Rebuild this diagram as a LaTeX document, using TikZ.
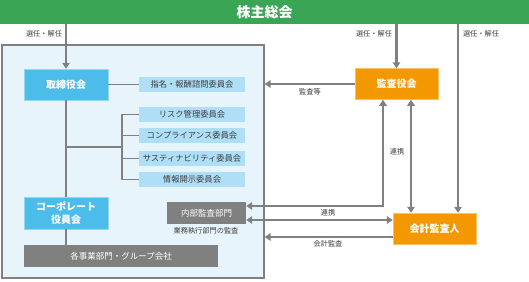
\documentclass[tikz,border=0pt]{standalone}
\usepackage{fontspec}
\setmainfont{Noto Sans CJK JP}
\usetikzlibrary{arrows.meta}
\definecolor{gbar}{HTML}{3AA655}
\definecolor{contfill}{HTML}{E8F4FC}
\definecolor{linegray}{HTML}{808080}
\definecolor{cyanbox}{HTML}{4CBDEB}
\definecolor{lightbox}{HTML}{AEDFF7}
\definecolor{orangebox}{HTML}{F39800}
\definecolor{graybox}{HTML}{808080}
\definecolor{txtgray}{HTML}{3C3C3C}
\tikzset{
  basebox/.style={inner sep=0pt, align=center},
  mainbox/.style={basebox, fill=cyanbox, draw=cyanbox!60!white, line width=0.5pt, text=white, font=\fontsize{10}{12}\selectfont\bfseries},
  orbox/.style={basebox, fill=orangebox, draw=orangebox!60!white, line width=0.5pt, text=white, font=\fontsize{10}{12}\selectfont\bfseries, minimum width=83pt, minimum height=31pt},
  combox/.style={basebox, fill=lightbox, text=txtgray, font=\fontsize{8.3}{10}\selectfont, minimum width=106pt, minimum height=15pt},
  gbox/.style={basebox, fill=graybox, text=white, font=\fontsize{8.5}{10}\selectfont},
  lbl/.style={inner sep=0pt, text=txtgray, font=\fontsize{7.2}{8}\selectfont},
  ln/.style={draw=linegray, line width=1.3pt},
  arr/.style={draw=linegray, line width=2.2pt, -{Triangle[length=6pt,width=7.5pt]}},
  darr/.style={draw=linegray, line width=2.2pt, {Triangle[length=6pt,width=7.5pt]}-{Triangle[length=6pt,width=7.5pt]}}
}
\begin{document}
\begin{tikzpicture}[x=1pt,y=-1pt]
\useasboundingbox (0,0) rectangle (529,281);
% shareholders bar
\node[basebox, fill=gbar, text=white, minimum width=529pt, minimum height=24pt, font=\fontsize{14}{16}\selectfont\bfseries] (kabu) at (264.5,12) {株主総会};
% container
\node[basebox, fill=contfill, draw=linegray, line width=1.2pt, minimum width=262pt, minimum height=233pt] (cont) at (133,161.5) {};
% boxes
\node[mainbox, minimum width=84pt, minimum height=31pt] (tori) at (66,84.5) {取締役会};
\node[combox] (shimei) at (192,84.5) {指名・報酬諮問委員会};
\node[combox] (risk) at (192,114.5) {リスク管理委員会};
\node[combox] (comp) at (192,135.5) {コンプライアンス委員会};
\node[combox] (sust) at (192,158.5) {サスティナビリティ委員会};
\node[combox] (joho) at (192,179.5) {情報開示委員会};
\node[mainbox, minimum width=84pt, minimum height=32pt, font=\fontsize{10}{13}\selectfont\bfseries] (corp) at (66,213) {コーポレート\\役員会};
\node[gbox, minimum width=194pt, minimum height=22pt] (jigyo) at (121,256) {各事業部門・グループ会社};
\node[gbox, minimum width=79pt, minimum height=22pt] (naibu) at (206.5,213) {内部監査部門};
\node[orbox] (kansa) at (396.5,84) {監査役会};
\node[orbox] (kaikei) at (434.5,228.5) {会計監査人};
% inner lines
\draw[ln] (tori.east) -- (shimei.west);
\draw[ln] (tori.south) -- (corp.north);
\draw[ln] (corp.south) -- (corp.south |- jigyo.north);
\coordinate (bj) at (122,147);
\draw[ln] (bj -| tori.south) -- (bj);
\draw[ln] (risk.west) -- (risk.west -| bj) |- (joho.west);
\draw[ln] (comp.west) -- (comp.west -| bj);
\draw[ln] (sust.west) -- (sust.west -| bj);
% arrows from shareholders
\draw[arr] (kabu.south -| tori.north) -- (tori.north);
\draw[arr] (kabu.south -| kansa.north) -- (kansa.north);
\coordinate (c3) at ([xshift=23.5pt]kaikei.north);
\draw[arr] (kabu.south -| c3) -- (c3);
% audit arrows
\draw[arr] (kansa.west) -- (kansa.west -| cont.east);
\coordinate (a1) at ([xshift=-13.5pt]kansa.south);
\coordinate (n1) at ([yshift=7pt]naibu.east);
\draw[darr] (a1) |- (n1);
\coordinate (a2) at ([xshift=14.5pt]kansa.south);
\draw[darr] (a2) -- (a2 |- kaikei.north);
\coordinate (n2) at ([yshift=-7pt]naibu.east);
\draw[darr] (n2) -- (n2 -| kaikei.west);
\coordinate (b3) at ([yshift=-8.5pt]kaikei.west);
\draw[arr] (b3) -- (b3 -| cont.east);
% labels
\node[lbl] (l1) at (44,34) {選任・解任};
\node[lbl] (l2) at (374,34) {選任・解任};
\node[lbl] (l3) at (481,34) {選任・解任};
\node[lbl] (l4) at (310,92) {監査等};
\node[lbl] (l5) at (397,152) {連携};
\node[lbl] (l6) at (328,213) {連携};
\node[lbl] (l7) at (328,244) {会計監査};
\node[lbl] (l8) at (206,231) {業務執行部門の監査};
\end{tikzpicture}
\end{document}
